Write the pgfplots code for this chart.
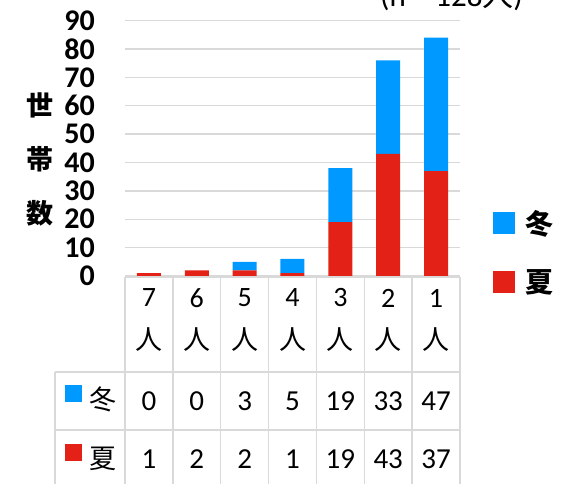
\documentclass[border=0pt]{standalone}
\usepackage{pgfplots}
\pgfplotsset{compat=1.18}
\usepackage{pgfplotstable}
\usepackage{fontspec}
\setmainfont{Carlito}
\newfontfamily\cjk{Noto Sans CJK JP}
\definecolor{fuyu}{RGB}{0,153,255}
\definecolor{natsu}{RGB}{228,33,22}
\definecolor{gridc}{RGB}{217,217,217}

\pgfplotstableread{
x cat winter summer
0 7 0 1
1 6 0 2
2 5 3 2
3 4 5 1
4 3 19 19
5 2 33 43
6 1 47 37
}\datatable

\begin{document}
\begin{tikzpicture}[x=1pt,y=1pt]
\begin{axis}[
  at={(125pt,-276pt)}, anchor=south west,
  scale only axis, width=335pt, height=255.4pt,
  ybar stacked, bar width=24pt,
  xmin=-0.5, xmax=6.5, ymin=0, ymax=90,
  ytick={0,10,...,90},
  xtick=\empty,
  axis line style={draw=none},
  ymajorgrids, grid style={gridc, line width=1.5pt},
  major tick length=0pt,
  /pgf/number format/assume math mode=true,
  yticklabel style={font=\fontsize{30}{30}\selectfont\bfseries, anchor=east, inner sep=0pt, xshift=-30pt},
  ylabel={世\\帯\\数},
  ylabel style={rotate=-90, font=\cjk\bfseries\fontsize{27}{54}\selectfont, align=center, at={(axis description cs:-0.2537,0.458)}, anchor=center},
  reverse legend,
  legend style={draw=none, fill=none, inner sep=0pt, at={(1.0985,0.2662)}, anchor=north west,
    font=\cjk\bfseries\fontsize{28}{28}\selectfont, row sep=30pt, cells={anchor=west},
    /tikz/every odd column/.append style={column sep=8pt}},
]
\addplot[fill=natsu, draw=none, legend image code/.code={\fill[natsu] (0pt,-11pt) rectangle (22pt,11pt);}] table[x=x, y=summer]{\datatable};
\addplot[fill=fuyu, draw=none, legend image code/.code={\fill[fuyu] (0pt,-11pt) rectangle (22pt,11pt);}] table[x=x, y=winter]{\datatable};
\legend{夏,冬}
\end{axis}
% table grid
\begin{scope}[gridc, line width=1.5pt]
\draw (125,-277) -- (460,-277);
\draw (55,-372) -- (460,-372);
\draw (55,-430) -- (460,-430);
\draw (55,-372) -- (55,-490);
\foreach \k in {0,...,7} {\draw ({125+335/7*\k},-277) -- ({125+335/7*\k},-490);}
\end{scope}
\foreach \i in {0,...,6} {
  \pgfmathsetmacro{\xc}{125+335/7*(\i+0.5)}
  \pgfplotstablegetelem{\i}{cat}\of\datatable
  \node[font=\fontsize{28}{28}\selectfont] at (\xc,-298) {\pgfplotsretval};
  \node[font=\cjk\fontsize{27}{27}\selectfont] at (\xc,-340) {人};
  \pgfplotstablegetelem{\i}{winter}\of\datatable
  \node[font=\fontsize{29}{29}\selectfont] at (\xc,-401) {\pgfplotsretval};
  \pgfplotstablegetelem{\i}{summer}\of\datatable
  \node[font=\fontsize{29}{29}\selectfont] at (\xc,-459) {\pgfplotsretval};
}
\fill[fuyu] (65,-385) rectangle (82,-402);
\node[font=\cjk\fontsize{27}{27}\selectfont] at (103,-399) {冬};
\fill[natsu] (65,-444) rectangle (82,-461);
\node[font=\cjk\fontsize{27}{27}\selectfont] at (103,-459) {夏};
\node[anchor=base west, inner sep=0pt, font=\fontsize{31}{31}\selectfont] at (380,-6) {(n = 128{\cjk 人})};
\pgfresetboundingbox
\path[use as bounding box] (0,0) rectangle (570,-483);
\end{tikzpicture}
\end{document}
